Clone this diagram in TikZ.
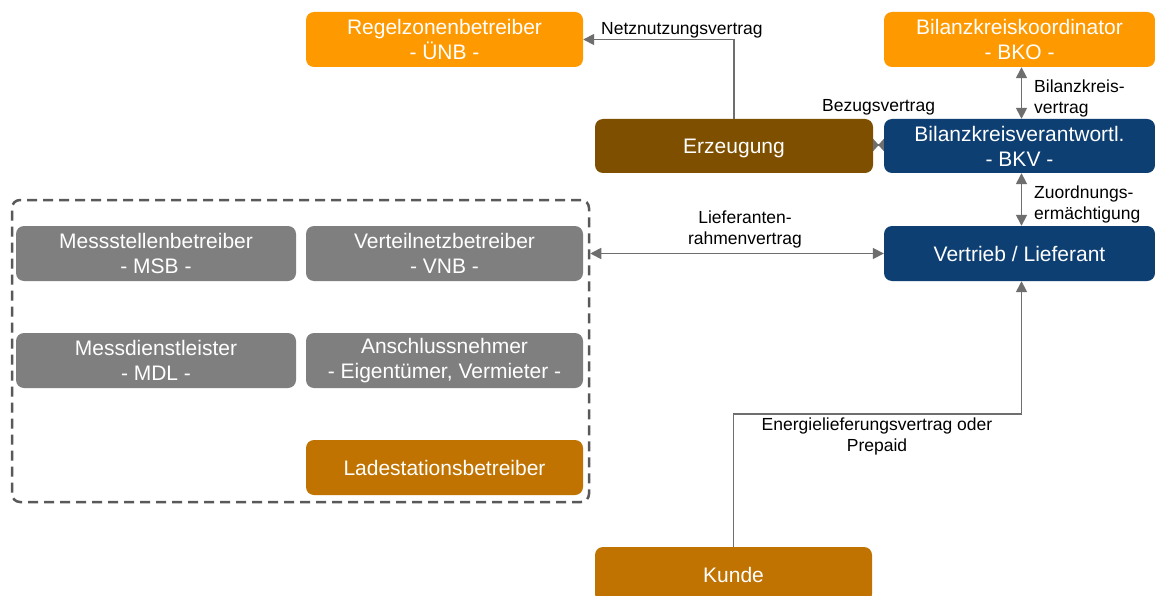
\documentclass[tikz,border=0pt]{standalone}
\usepackage{fontspec}
\setmainfont{Liberation Sans}
\usetikzlibrary{arrows.meta}

\definecolor{cOrange}{HTML}{FF9900}
\definecolor{cBrown}{HTML}{7F4F00}
\definecolor{cBlue}{HTML}{0E3F73}
\definecolor{cGray}{HTML}{7F7F7F}
\definecolor{cOchre}{HTML}{C07300}
\definecolor{cLine}{HTML}{6E6E6E}
\definecolor{cDash}{HTML}{595959}

\begin{document}
\begin{tikzpicture}[x=1pt,y=-1pt,
  box/.style={rectangle, rounded corners=8pt, draw=none, inner sep=0pt,
    align=center, text=white, font=\fontsize{21pt}{25pt}\selectfont},
  wide/.style={minimum width=277pt, minimum height=55pt},
  side/.style={minimum width=271pt, minimum height=55pt},
  lbl/.style={inner sep=0pt, text=black, font=\fontsize{17.5pt}{21pt}\selectfont},
  conn/.style={draw=cLine, line width=1.6pt,
    arrows={-Triangle[length=11pt,width=11pt]}},
  both/.style={conn, arrows={Triangle[length=11pt,width=11pt]-Triangle[length=11pt,width=11pt]}},
]
\useasboundingbox[fill=white] (0,0) rectangle (1155,596);

% top row
\node[box, wide, fill=cOrange] (rzb) at (444.5,39.5) {Regelzonenbetreiber\\- ÜNB -};
\node[box, side, fill=cOrange] (bko) at (1019.5,39.5) {Bilanzkreiskoordinator\\- BKO -};

% producer and balancing group
\node[box, minimum width=278pt, minimum height=54pt, text depth=0pt, fill=cBrown] (erz) at (734,146) {Erzeugung};
\node[box, side, minimum height=54pt, fill=cBlue] (bkv) at (1019.5,146) {Bilanzkreisverantwortl.\\- BKV -};
\node[box, side, fill=cBlue] (vl) at (1019.5,253.5) {Vertrieb / Lieferant};

% grid of market roles inside the dashed group
\node[box, minimum width=280pt, minimum height=55pt, fill=cGray] (msb) at (156,253.5) {Messstellenbetreiber\\- MSB -};
\node[box, wide, fill=cGray] (vnb) at (444.5,253.5) {Verteilnetzbetreiber\\- VNB -};
\node[box, minimum width=280pt, minimum height=55pt, fill=cGray] (mdl) at (156,360.5) {Messdienstleister\\- MDL -};
\node[box, wide, fill=cGray] (an) at (444.5,360.5) {Anschlussnehmer\\- Eigentümer, Vermieter -};
\node[box, wide, fill=cOchre] (lsb) at (444.5,467.5) {Ladestationsbetreiber};

\node[rectangle, rounded corners=8pt, draw=cDash, line width=2.5pt,
  dash pattern=on 10pt off 6pt, minimum width=577pt, minimum height=302pt,
  inner sep=0pt] (grp) at (300.5,351) {};

% customer
\node[box, minimum width=277pt, minimum height=55pt, fill=cOchre] (kunde) at (733.5,574.5) {Kunde};

% contracts
\draw[conn] (erz.north) |- (rzb.east);
\node[lbl, anchor=base west] (lnetz) at (601,35) {Netznutzungsvertrag};

% the two tips of this very short link meet in the middle
\draw[draw=cLine, line width=1.6pt,
  arrows={Triangle[reversed,length=5.5pt,width=12pt]-Triangle[reversed,length=5.5pt,width=12pt]}]
  ([yshift=1pt]erz.east) -- ([yshift=1pt]bkv.west);
\node[lbl, anchor=base west] (lbez) at (822,112) {Bezugsvertrag};

\draw[both] ([xshift=2pt]bko.south) -- ([xshift=2pt]bkv.north);
\node[lbl, anchor=west, align=left] (lbk) at (1034,98.5) {Bilanzkreis-\\vertrag};

\draw[both] ([xshift=2pt]bkv.south) -- ([xshift=2pt]vl.north);
\node[lbl, anchor=west, align=left] (lzo) at (1034,204) {Zuordnungs-\\ermächtigung};

\draw[both] (vl.west -| grp.east) -- (vl.west);
\node[lbl, align=center] (lrv) at (745,229) {Lieferanten-\\rahmenvertrag};

\coordinate (kline) at (0,414);
\draw[conn] (kunde.north) -- (kunde.north |- kline) -| ([xshift=2pt]vl.south);
\node[lbl, align=center] (lelv) at (877,436.5) {Energielieferungsvertrag oder\\Prepaid};
\end{tikzpicture}
\end{document}
